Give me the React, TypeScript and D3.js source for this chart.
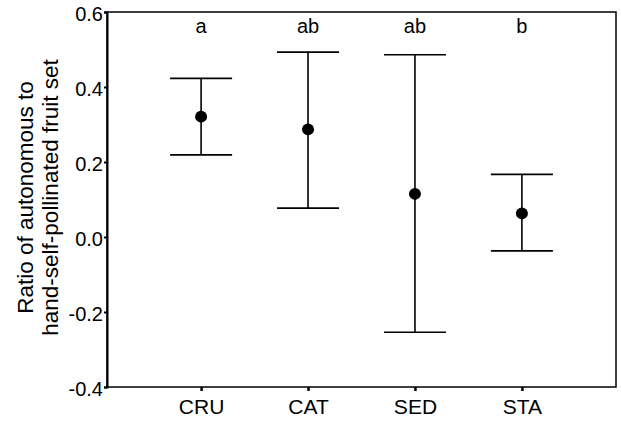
import React, { useEffect, useRef } from "react";
import * as d3 from "d3";

// group means with the ends of their error bars
const categories = ["CRU", "CAT", "SED", "STA"];
const means = [0.321, 0.287, 0.115, 0.063];
const upper = [0.423, 0.493, 0.486, 0.167];
const lower = [0.219, 0.077, -0.254, -0.037];
const letters = ["a", "ab", "ab", "b"];
const yTicks = [-0.4, -0.2, 0.0, 0.2, 0.4, 0.6];

const App = () => {
  const chartRef = useRef<SVGSVGElement>(null);

  useEffect(() => {
    const width = 621;
    const height = 421;
    const left = 107;
    const right = 616;
    const top = 12;
    const bottom = 387;
    const font = "'Liberation Sans', Arial, sans-serif";

    const svg = d3.select(chartRef.current);
    svg.selectAll("*").remove();
    svg.attr("width", width).attr("height", height);

    const x = d3.scalePoint<string>().domain(categories).range([left, right]).padding(0.88);
    const y = d3.scaleLinear().domain([-0.4, 0.6]).range([bottom, top]);

    // frame
    svg
      .append("rect")
      .attr("x", left)
      .attr("y", top)
      .attr("width", right - left)
      .attr("height", bottom - top)
      .attr("fill", "none")
      .attr("stroke", "#000")
      .attr("stroke-width", 1.5);

    // y axis
    const yAxis = svg
      .append("g")
      .attr("transform", `translate(${left},0)`)
      .call(
        d3
          .axisLeft(y)
          .tickValues(yTicks)
          .tickSize(3)
          .tickPadding(1)
          .tickFormat((d) => (+d).toFixed(1))
      );
    yAxis.select(".domain").attr("stroke-width", 2);
    yAxis.selectAll("line").attr("stroke-width", 2);
    yAxis
      .selectAll("text")
      .attr("font-family", font)
      .attr("font-size", 20)
      .attr("dy", "0.42em")
      .attr("fill", "#000");

    // x axis
    const xAxis = svg
      .append("g")
      .attr("transform", `translate(0,${bottom})`)
      .call(d3.axisBottom(x).tickSize(4).tickPadding(8));
    xAxis.select(".domain").remove();
    xAxis.selectAll("line").attr("stroke-width", 2.5);
    xAxis.selectAll("text").attr("font-family", font).attr("font-size", 21).attr("fill", "#000");

    const data = categories.map((c, i) => ({
      c,
      mean: means[i],
      hi: upper[i],
      lo: lower[i],
      letter: letters[i],
    }));

    const capHalf = 31;

    const g = svg.append("g").attr("stroke", "#000").attr("stroke-width", 1.6);

    g.selectAll(".whisker")
      .data(data)
      .join("line")
      .attr("x1", (d) => x(d.c)!)
      .attr("x2", (d) => x(d.c)!)
      .attr("y1", (d) => y(d.hi))
      .attr("y2", (d) => y(d.lo));

    g.selectAll(".capHi")
      .data(data)
      .join("line")
      .attr("x1", (d) => x(d.c)! - capHalf)
      .attr("x2", (d) => x(d.c)! + capHalf)
      .attr("y1", (d) => y(d.hi))
      .attr("y2", (d) => y(d.hi));

    g.selectAll(".capLo")
      .data(data)
      .join("line")
      .attr("x1", (d) => x(d.c)! - capHalf)
      .attr("x2", (d) => x(d.c)! + capHalf)
      .attr("y1", (d) => y(d.lo))
      .attr("y2", (d) => y(d.lo));

    svg
      .append("g")
      .selectAll("circle")
      .data(data)
      .join("circle")
      .attr("cx", (d) => x(d.c)!)
      .attr("cy", (d) => y(d.mean))
      .attr("r", 6)
      .attr("fill", "#000");

    // significance letters
    svg
      .append("g")
      .selectAll("text")
      .data(data)
      .join("text")
      .attr("x", (d) => x(d.c)!)
      .attr("y", 33)
      .attr("text-anchor", "middle")
      .attr("font-family", font)
      .attr("font-size", 20)
      .text((d) => d.letter);

    // y label, two lines
    const label = svg
      .append("text")
      .attr("transform", `translate(33,${(top + bottom) / 2 - 2}) rotate(-90)`)
      .attr("text-anchor", "middle")
      .attr("font-family", font)
      .attr("font-size", 22.5);
    label.append("tspan").attr("x", 0).attr("y", 0).text("Ratio of autonomous to");
    label.append("tspan").attr("x", 0).attr("y", 25).text("hand-self-pollinated fruit set");
  }, []);

  return <svg ref={chartRef} style={{ position: "absolute", left: 0, top: 0 }} />;
};

export default App;
